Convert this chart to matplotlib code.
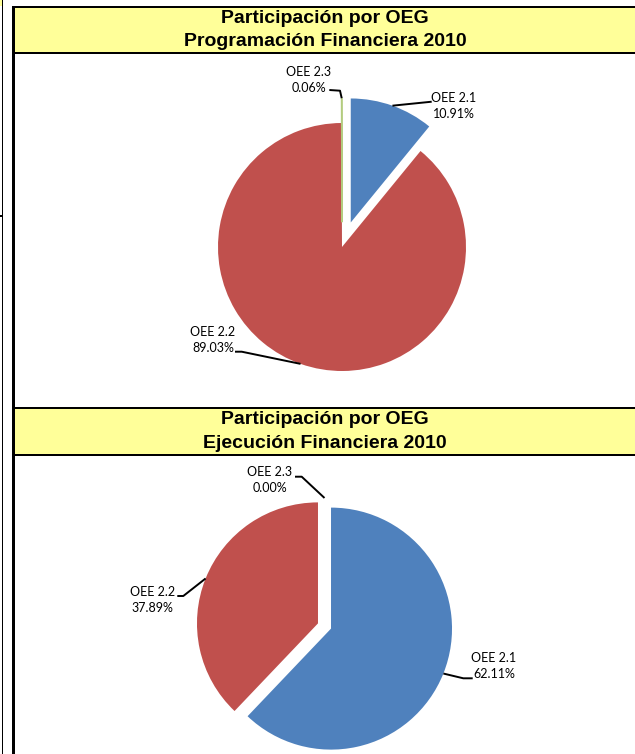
import matplotlib
matplotlib.use('Agg')
import matplotlib.pyplot as plt
from matplotlib.patches import Rectangle
import numpy as np

W, H = 635, 754

# datos
names = ['OEE 2.1', 'OEE 2.2', 'OEE 2.3']
prog_pct = [10.91, 89.03, 0.06]
ejec_pct = [62.11, 37.89, 0.00]
colors = ['#4F81BD', '#C0504D', '#9BBB59']
title_top = 'Participación por OEG'
title_prog = 'Programación Financiera 2010'
title_ejec = 'Ejecución Financiera 2010'

YELLOW = '#FFFF99'
LBL_FONT = ['Lato', 'DejaVu Sans']

fig = plt.figure(figsize=(W / 100, H / 100), dpi=100)
ax = fig.add_axes([0, 0, 1, 1])


def Y(y):
    return H - y


def box(x0, y0, x1, y1, c):
    ax.add_patch(Rectangle((x0, Y(y1)), x1 - x0, y1 - y0, facecolor=c,
                           edgecolor='none', zorder=0))


## marco de la hoja
box(0, 0, 2, 6, YELLOW)
box(2, 0, 3.3, H, 'black')
box(0, 215, 2.5, 217, 'black')
box(12.3, 6, 14.8, H, 'black')
box(12.3, 6, W, 8, 'black')
box(14.8, 8, W, 52.3, YELLOW)
box(12.3, 52.3, W, 54.3, 'black')
box(12.3, 406.7, W, 408.7, 'black')
box(14.8, 408.7, W, 454, YELLOW)
box(12.3, 454, W, 456, 'black')

## titulos
for y1, y2, sub in [(18.5, 41.5, title_prog), (420, 443, title_ejec)]:
    ax.text(325, Y(y1), title_top, ha='center', va='center', fontsize=14,
            fontweight='bold', family='Liberation Sans', zorder=3)
    ax.text(325, Y(y2), sub, ha='center', va='center', fontsize=14,
            fontweight='bold', family='Liberation Sans', zorder=3)


def DrawPie(vals, cx, cy, r, expl, layout):
    wedges, _ = ax.pie(vals, colors=colors, startangle=90, counterclock=False,
                       explode=[e * r for e in expl], center=(cx, Y(cy)),
                       radius=r, frame=True, wedgeprops=dict(linewidth=0))
    for w, name, v, (tx, ty, pts) in zip(wedges, names, vals, layout):
        th = np.radians((w.theta1 + w.theta2) / 2)
        sx = w.center[0] + w.r * np.cos(th)
        sy = w.center[1] + w.r * np.sin(th)
        xs = [sx] + [p[0] for p in pts]
        ys = [sy] + [Y(p[1]) for p in pts]
        ax.plot(xs, ys, color='black', lw=1.4, zorder=4, solid_capstyle='butt')
        ax.text(tx, Y(ty - 8), name, ha='center', va='center', fontsize=9,
                family=LBL_FONT, zorder=5)
        ax.text(tx, Y(ty + 8), '%.2f%%' % v, ha='center', va='center',
                fontsize=9, family=LBL_FONT, zorder=5)
    return wedges


layout_prog = [(454, 105.5, [(431.7, 101.7)]),
               (213, 340.5, [(241.7, 351.7), (235, 351.7)]),
               (308.5, 79.9, [(340, 90.7), (329.3, 90)])]
layout_ejec = [(494, 666, [(463.3, 678.3), (472.7, 678.3)]),
               (152.3, 600, [(183.3, 596), (177.3, 596)]),
               (269.5, 480.5, [(301.7, 476.7), (295, 476.7)])]

w1 = DrawPie(prog_pct, 342, 247, 124, [0.21, 0, 0.20], layout_prog)
w1[2].set_edgecolor('#B3CC7F')
w1[2].set_linewidth(1.0)
DrawPie(ejec_pct, 324.5, 626, 121, [0.058, 0.058, 0.058], layout_ejec)

ax.set_xlim(0, W)
ax.set_ylim(0, H)
ax.set_aspect('auto')
ax.axis('off')

fig.savefig('out.png', dpi=100, facecolor='white')
